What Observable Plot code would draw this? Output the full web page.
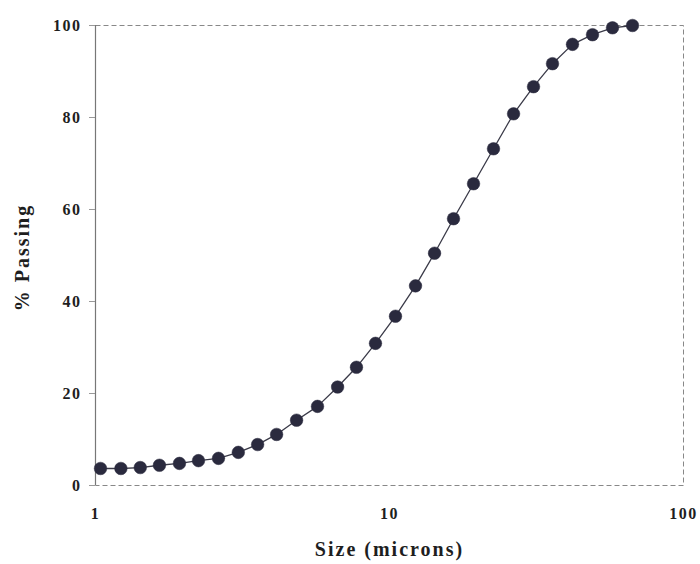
<!DOCTYPE html>
<html>
<head>
<meta charset="utf-8">
<script src="https://cdn.jsdelivr.net/npm/d3@7"></script>
<script src="https://cdn.jsdelivr.net/npm/@observablehq/plot@0.6"></script>
<style>
  html, body { margin: 0; padding: 0; background: #fff; }
  #chart svg { display: block; }
  #chart svg g[aria-label="y-axis tick label"] text,
  #chart svg g[aria-label="x-axis tick label"] text { letter-spacing: 1.5px; }
</style>
</head>
<body>
<div id="chart"></div>
<script>
// Particle size distribution: cumulative % passing vs. size (log scale)
const sizes = [1.04, 1.22, 1.42, 1.65, 1.93, 2.24, 2.62, 3.06, 3.56, 4.13,
               4.83, 5.69, 6.66, 7.72, 8.96, 10.48, 12.26, 14.23, 16.51, 19.31,
               22.58, 26.42, 30.89, 35.84, 41.92, 49.03, 57.34, 67.07];
const passing = [3.7, 3.7, 3.9, 4.4, 4.8, 5.4, 5.9, 7.2, 8.9, 11.1,
                 14.2, 17.2, 21.4, 25.7, 30.9, 36.8, 43.4, 50.5, 58.0, 65.6,
                 73.2, 80.8, 86.7, 91.7, 95.9, 98.0, 99.5, 100];
const xTicks = [1, 10, 100];
const yTicks = [0, 20, 40, 60, 80, 100];
const xTitle = "Size (microns)";
const yTitle = "% Passing";

const data = sizes.map((s, i) => ({size: s, pct: passing[i]}));

const ink = "#1e1e1e";
const chart = Plot.plot({
  width: 700,
  height: 564,
  marginLeft: 95,
  marginRight: 17,
  marginTop: 25,
  marginBottom: 79,
  style: {fontFamily: "'Liberation Serif', 'DejaVu Serif', serif", fontWeight: "bold", color: ink, background: "#fff"},
  x: {type: "log", domain: [1, 100]},
  y: {domain: [0, 100]},
  marks: [
    // dashed box around the plotting area
    Plot.frame({stroke: "#888", strokeDasharray: "5,3", strokeWidth: 1}),
    Plot.ruleX([1], {stroke: "#777", strokeWidth: 1.2}),
    Plot.axisY({ticks: yTicks, tickSize: 6, tickPadding: 8, fontSize: 16, label: null, stroke: "#999"}),
    Plot.axisX({ticks: xTicks, tickSize: 0, tickPadding: 22, fontSize: 16, label: null, tickFormat: d => String(d)}),
    Plot.line(data, {x: "size", y: "pct", stroke: "#3a3a48", strokeWidth: 1.3}),
    Plot.dot(data, {x: "size", y: "pct", r: 6.3, fill: "#2a2a3e", stroke: "#2a2a3e", strokeWidth: 0.5}),
    Plot.text([xTitle], {frameAnchor: "bottom", dy: 70, text: d => d, fontSize: 20, fontWeight: "bold", fill: ink,
                         textAnchor: "middle", style: {letterSpacing: "1.6px"}}),
    Plot.text([yTitle], {frameAnchor: "left", dx: -73, dy: 2, rotate: -90, text: d => d, fontSize: 20, fontWeight: "bold", fill: ink,
                         textAnchor: "middle"})
  ]
});
document.getElementById("chart").append(chart);
// wider tracking on the axis titles, as in the printed figure
chart.querySelectorAll('g[aria-label="text"] text').forEach(t => t.setAttribute("letter-spacing", "2"));
</script>
</body>
</html>
